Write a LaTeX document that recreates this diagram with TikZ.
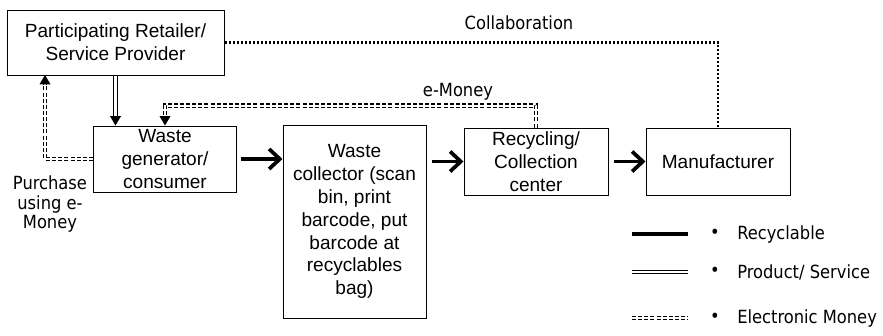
\documentclass[tikz,border=0pt]{standalone}
\usepackage{fontspec}
\setmainfont{Liberation Sans}
\newfontfamily\lblfont{DejaVu Sans Condensed}
\usetikzlibrary{arrows.meta}
\begin{document}
\begin{tikzpicture}[x=0.75pt,y=-0.75pt,
  box/.style={draw,line width=0.75pt,align=center,inner sep=0pt,
    font=\fontsize{14.3}{17.2}\selectfont},
  lbl/.style={align=center,inner sep=0pt,font=\lblfont\fontsize{13.6}{14.8}\selectfont},
  recyc/.style={line width=2.8pt,-{Straight Barb[length=8pt,width=15pt]}},
  prod/.style={double,double distance=2pt,line width=0.7pt,-{Triangle[length=7pt,width=8pt]}},
  emoney/.style={double,double distance=1.5pt,line width=0.9pt,dash pattern=on 3pt off 1.6pt,-{Triangle[length=7pt,width=8pt]}},
  collab/.style={line width=1.7pt,dash pattern=on 1.5pt off 1.5pt}]
\useasboundingbox (0,0) rectangle (883,336);

\node[box,minimum width=217*0.75pt,minimum height=65*0.75pt] (retail) at (115.5,42.5) {Participating Retailer/\\Service Provider};
\node[box,minimum width=143*0.75pt,minimum height=66*0.75pt] (gen) at (165,159) {Waste\\generator/\\consumer};
\node[box,minimum width=143*0.75pt,minimum height=193*0.75pt] (coll) at (354.5,221.5) {Waste\\collector (scan\\bin, print\\barcode, put\\barcode at\\recyclables\\bag)};
\node[box,minimum width=144*0.75pt,minimum height=67*0.75pt] (rec) at (536,161.5) {Recycling/\\Collection\\center};
\node[box,minimum width=144*0.75pt,minimum height=67*0.75pt] (man) at (718,161.5) {Manufacturer};

\node[lbl] (purch) at (50,204) {Purchase\\using e-\\Money};
\node[lbl] (emlbl) at (458,92) {e-Money};
\node[lbl] (collbl) at (519,23) {Collaboration};

\coordinate (ptop) at (45,75);

% connectors
\draw[prod] (retail.south) -- (retail.south |- gen.north);
\draw[emoney] (rec.north) -- ++(0,-22) -| (gen.north);
\draw[emoney] (gen.west) -| (ptop);
\draw[collab] (retail.east) -| (man.north);
\draw[recyc,shorten <=3pt] (gen.east) -- (gen.east -| coll.west);
\draw[recyc,shorten <=4pt] (coll.east |- rec.west) -- (rec.west);
\draw[recyc,shorten <=4pt] (rec.east) -- (man.west);

% legend
\coordinate (l1a) at (632,234); \coordinate (l1b) at (688,234);
\coordinate (l2a) at (632,272); \coordinate (l2b) at (688,272);
\coordinate (l3a) at (632,318); \coordinate (l3b) at (688,318);
\draw[line width=2.8pt] (l1a) -- (l1b);
\draw[double,double distance=2pt,line width=0.7pt] (l2a) -- (l2b);
\draw[double,double distance=1.5pt,line width=0.9pt,dash pattern=on 3pt off 1.6pt] (l3a) -- (l3b);
\node[lbl] (b1) at (715,234) {•};
\node[lbl] (b2) at (715,272) {•};
\node[lbl] (b3) at (715,318) {•};
\node[lbl,anchor=west] (t1) at (737,234) {Recyclable};
\node[lbl,anchor=west] (t2) at (737,272) {Product/ Service};
\node[lbl,anchor=west] (t3) at (737,318) {Electronic Money};
\end{tikzpicture}
\end{document}
